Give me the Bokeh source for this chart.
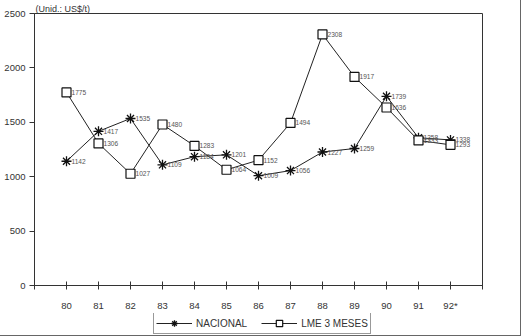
from bokeh.plotting import figure
from bokeh.models import ColumnDataSource, Legend, LegendItem, FixedTicker, Range1d, Title
from bokeh.layouts import column
from bokeh.core.properties import value
from bokeh.embed import file_html
from bokeh.resources import INLINE

categories = ["80", "81", "82", "83", "84", "85", "86", "87", "88", "89", "90", "91", "92*"]
nacional = [1142, 1417, 1535, 1109, 1184, 1201, 1009, 1056, 1227, 1259, 1739, 1358, 1338]
lme = [1775, 1306, 1027, 1480, 1283, 1064, 1152, 1494, 2308, 1917, 1636, 1333, 1293]
y_ticks = [0, 500, 1000, 1500, 2000, 2500]
series_names = ["NACIONAL", "LME 3 MESES"]

xs = list(range(len(categories)))
src_n = ColumnDataSource(dict(x=xs, y=nacional, lab=[str(v) for v in nacional]))
src_l = ColumnDataSource(dict(x=xs, y=lme, lab=[str(v) for v in lme]))

FONT = "Liberation Sans"
LINE = "#222222"
MARK = "#111111"

p = figure(width=520, height=313, output_backend="svg", toolbar_location=None,
           min_border_left=34, min_border_right=38, min_border_top=13, min_border_bottom=26,
           x_range=Range1d(-1, len(categories)), y_range=Range1d(0, 2500))
p.xgrid.visible = False
p.ygrid.visible = False
p.outline_line_color = "#333333"
p.outline_line_width = 1

p.line("x", "y", source=src_n, line_color=LINE, line_width=1)
p.scatter("x", "y", source=src_n, marker="asterisk", size=10, line_color=MARK, line_width=1.3)
p.line("x", "y", source=src_l, line_color=LINE, line_width=1)
p.scatter("x", "y", source=src_l, marker="square", size=9, line_color=MARK,
          fill_color="white", line_width=1.2)

for s in (src_n, src_l):
    p.text("x", "y", text="lab", source=s, x_offset=5, y_offset=0, text_font_size="6.6px",
           text_color="#555555", text_baseline="middle", text_align="left", text_font=value(FONT))

p.xaxis.ticker = FixedTicker(ticks=list(range(-1, len(categories) + 1)))
overrides = {i: c for i, c in enumerate(categories)}
overrides[-1] = ""
overrides[len(categories)] = ""
p.xaxis.major_label_overrides = overrides
p.xaxis.major_tick_in = 4
p.xaxis.major_tick_out = 4
p.xaxis.minor_tick_line_color = None
p.xaxis.major_label_standoff = 10
p.xaxis.axis_line_color = "#333333"
p.xaxis.major_tick_line_color = "#333333"

p.yaxis.ticker = FixedTicker(ticks=y_ticks)
p.yaxis.major_tick_in = 0
p.yaxis.major_tick_out = 5
p.yaxis.minor_tick_line_color = None
p.yaxis.major_label_standoff = 4
p.yaxis.axis_line_color = "#333333"
p.yaxis.major_tick_line_color = "#333333"

for ax in (p.xaxis[0], p.yaxis[0]):
    ax.major_label_text_font = FONT
    ax.major_label_text_font_size = "9.5px"
    ax.major_label_text_color = "#333333"

p.add_layout(Title(text="(Unid.: US$/t)", text_font=FONT, text_font_size="9px",
                   text_font_style="normal", text_color="#333333", offset=1, standoff=0), "above")

# legend strip below the chart (its frame is aligned with the chart frame)
q = figure(width=520, height=22, output_backend="svg", toolbar_location=None,
           min_border_left=0, min_border_right=0, min_border_top=0, min_border_bottom=0,
           x_range=Range1d(0, 1), y_range=Range1d(0, 1))
q.axis.visible = False
q.grid.visible = False
q.outline_line_color = None
offscreen = ColumnDataSource(dict(x=[-5], y=[-5]))
ln = q.line("x", "y", source=offscreen, line_color=LINE, line_width=1)
mn = q.scatter("x", "y", source=offscreen, marker="asterisk", size=10, line_color=MARK, line_width=1.3)
ll = q.line("x", "y", source=offscreen, line_color=LINE, line_width=1)
ml = q.scatter("x", "y", source=offscreen, marker="square", size=9, line_color=MARK,
               fill_color="white", line_width=1.2)
legend = Legend(items=[LegendItem(label=series_names[0], renderers=[ln, mn]),
                       LegendItem(label=series_names[1], renderers=[ll, ml])],
                orientation="horizontal", location=(119, 1),
                label_text_font=FONT, label_text_font_size="10px", label_text_color="#333333",
                border_line_color="#333333", background_fill_alpha=1,
                padding=2, spacing=14, glyph_width=36, label_standoff=4, margin=0,
                label_height=12, glyph_height=16)
q.add_layout(legend, "center")

layout = column(p, q, spacing=0,
                styles={"border-right": "1px solid #666", "border-bottom": "1px solid #666"})

open("out.html", "w").write(file_html(layout, INLINE))
